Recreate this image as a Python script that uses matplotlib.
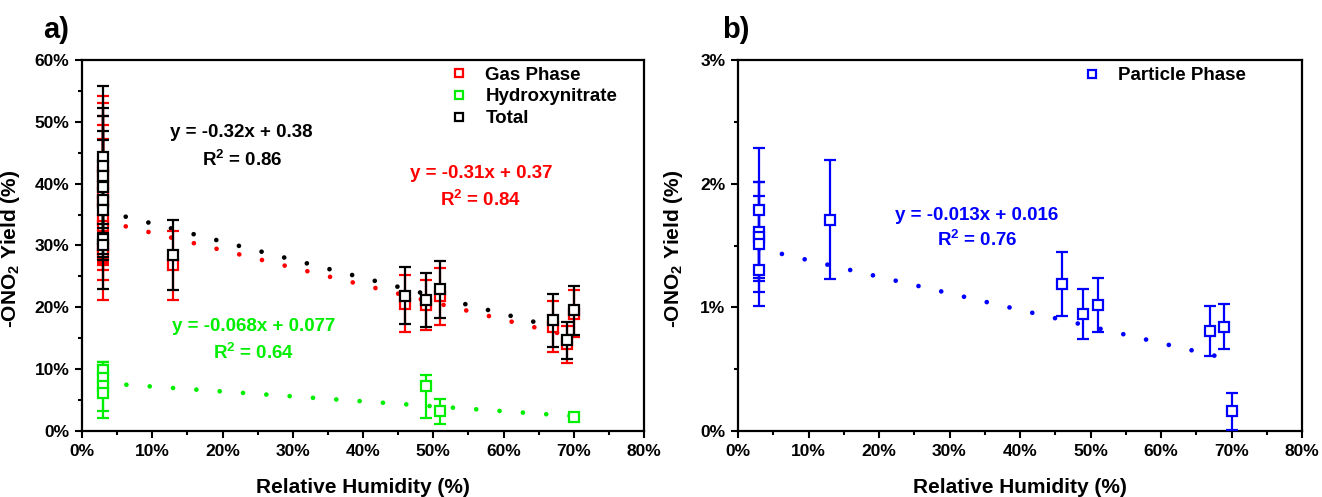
import numpy as np
import matplotlib
matplotlib.use("Agg")
import matplotlib.pyplot as plt
from matplotlib.ticker import MultipleLocator, PercentFormatter

plt.rcParams['font.family'] = ['Liberation Sans', 'DejaVu Sans']
plt.rcParams['font.weight'] = 'bold'
plt.rcParams['mathtext.fontset'] = 'custom'
plt.rcParams['mathtext.rm'] = 'Liberation Sans:bold'
plt.rcParams['mathtext.it'] = 'Liberation Sans:bold'
plt.rcParams['mathtext.bf'] = 'Liberation Sans:bold'

# ---- panel a data (RH in %, yields in %) ----
rh_gas = [3, 3, 3, 3, 3, 3, 3, 3, 13, 46, 49, 51, 67, 69, 70]
gas = [42.0, 40.0, 38.5, 37.0, 34.2, 33.1, 29.5, 28.7, 26.8, 20.6, 20.4, 21.8, 16.9, 14.0, 19.0]
gas_err = [12.2, 13.1, 12.4, 12.5, 13.0, 5.7, 2.0, 1.5, 5.6, 4.6, 4.1, 4.6, 4.1, 3.0, 3.8]

total = [44.3, 42.8, 41.2, 39.5, 37.4, 35.8, 31.0, 30.1, 28.5, 21.9, 21.2, 22.9, 17.9, 14.7, 19.5]
total_err = [11.5, 9.4, 9.8, 9.0, 9.7, 7.2, 8.0, 2.0, 5.7, 4.6, 4.3, 4.6, 4.3, 3.0, 4.0]

rh_hn = [3, 3, 3, 3, 49, 51, 70]
hn = [9.8, 8.6, 7.2, 6.1, 7.2, 3.2, 2.3]
hn_err_lo = [1.3, 1.7, 4.0, 4.0, 5.1, 2.0, 0.6]
hn_err_hi = [1.3, 1.7, 4.0, 4.0, 1.9, 2.0, 0.6]

# ---- panel b data ----
rh_part = [3, 3, 3, 3, 3, 13, 46, 49, 51, 67, 69, 70]
part = [1.79, 1.61, 1.57, 1.51, 1.30, 1.71, 1.186, 0.945, 1.017, 0.81, 0.844, 0.159]
part_err = [0.50, 0.40, 0.33, 0.50, 0.18, 0.48, 0.26, 0.20, 0.22, 0.20, 0.18, 0.15]

# linear fit lines (ends)
fit_x = [3, 70]
total_fit = [35.6, 16.0]
gas_fit = [34.0, 15.2]
hn_fit = [7.75, 2.4]
part_fit = [1.475, 0.577]

RED = '#ff0000'
GREEN = '#00ee00'
BLUE = '#0000ff'


def pct(v):
    return np.asarray(v, dtype=float) / 100.0


def errpts(ax, x, y, err, color, label, z):
    eb = ax.errorbar(pct(x), pct(y), yerr=err, fmt='s', ms=7.5, mfc='white',
                     mec=color, mew=1.6, ecolor=color, elinewidth=1.6,
                     capsize=4.5, capthick=1.6, label=label, zorder=z)
    return eb


def fitline(ax, y, color):
    ax.plot(pct(fit_x), pct(y), color=color, lw=3.4,
            linestyle=(0, (0.001, 4.95)), dash_capstyle='round', zorder=1)


def style(ax, ymajor, yminor, ylab_x):
    ax.set_xlim(0, 0.8)
    ax.xaxis.set_major_locator(MultipleLocator(0.1))
    ax.xaxis.set_minor_locator(MultipleLocator(0.05))
    ax.yaxis.set_major_locator(MultipleLocator(ymajor))
    ax.yaxis.set_minor_locator(MultipleLocator(yminor))
    ax.xaxis.set_major_formatter(PercentFormatter(1, decimals=0))
    ax.yaxis.set_major_formatter(PercentFormatter(1, decimals=0))
    ax.tick_params(which='major', direction='out', length=5, width=1.5,
                   labelsize=12.5, pad=4)
    ax.tick_params(which='minor', direction='out', length=3, width=1.5)
    for s in ax.spines.values():
        s.set_linewidth(1.6)
    ax.set_xlabel('Relative Humidity (%)', fontsize=15, fontweight='bold', labelpad=14)
    ax.set_ylabel('-ONO$_2$ Yield (%)', fontsize=15, fontweight='bold')
    ax.yaxis.set_label_coords(ylab_x, 0.49)


fig = plt.figure(figsize=(13.22, 4.97), dpi=100)
ax1 = fig.add_axes([82 / 1322, 66 / 497, 562 / 1322, 371 / 497])
ax2 = fig.add_axes([738 / 1322, 66 / 497, 564 / 1322, 371 / 497])

# panel a
fitline(ax1, gas_fit, RED)
fitline(ax1, hn_fit, GREEN)
fitline(ax1, total_fit, 'black')
e1 = errpts(ax1, rh_gas, gas, pct(gas_err), RED, 'Gas Phase', 3)
e2 = errpts(ax1, rh_hn, hn, [pct(hn_err_lo), pct(hn_err_hi)], GREEN, 'Hydroxynitrate', 3)
e3 = errpts(ax1, rh_gas, total, pct(total_err), 'black', 'Total', 4)
ax1.set_ylim(0, 0.6)
style(ax1, 0.1, 0.05, -0.107)
ax1.legend(handles=[e1[0], e2[0], e3[0]], labels=['Gas Phase', 'Hydroxynitrate', 'Total'],
           loc='upper left', bbox_to_anchor=(0.635, 1.013), frameon=False, fontsize=13.5,
           handlelength=1.0, handletextpad=0.88, labelspacing=0.25, borderaxespad=0.2,
           markerscale=0.85)

tk = dict(ha='center', va='center', fontsize=13.5, fontweight='bold')
ax1.text(0.227, 0.482, 'y = -0.32x + 0.38', color='black', **tk)
ax1.text(0.228, 0.439, 'R$^2$ = 0.86', color='black', **tk)
ax1.text(0.569, 0.417, 'y = -0.31x + 0.37', color=RED, **tk)
ax1.text(0.568, 0.374, 'R$^2$ = 0.84', color=RED, **tk)
ax1.text(0.244, 0.169, 'y = -0.068x + 0.077', color=GREEN, **tk)
ax1.text(0.244, 0.127, 'R$^2$ = 0.64', color=GREEN, **tk)

# panel b
fitline(ax2, part_fit, BLUE)
e4 = errpts(ax2, rh_part, part, pct(part_err), BLUE, 'Particle Phase', 3)
ax2.set_ylim(0, 0.03)
style(ax2, 0.01, 0.005, -0.094)
ax2.legend(handles=[e4[0]], labels=['Particle Phase'], loc='upper left',
           bbox_to_anchor=(0.591, 1.011), frameon=False, fontsize=13.5,
           handlelength=1.0, handletextpad=0.88, borderaxespad=0.2, markerscale=0.85)
ax2.text(0.339, 0.01746, 'y = -0.013x + 0.016', color=BLUE, **tk)
ax2.text(0.339, 0.01544, 'R$^2$ = 0.76', color=BLUE, **tk)

fig.text(56 / 1322, 1 - 30 / 497, 'a)', fontsize=21, fontweight='bold', ha='center', va='center')
fig.text(736 / 1322, 1 - 30 / 497, 'b)', fontsize=21, fontweight='bold', ha='center', va='center')

fig.savefig('out.png', dpi=100)
